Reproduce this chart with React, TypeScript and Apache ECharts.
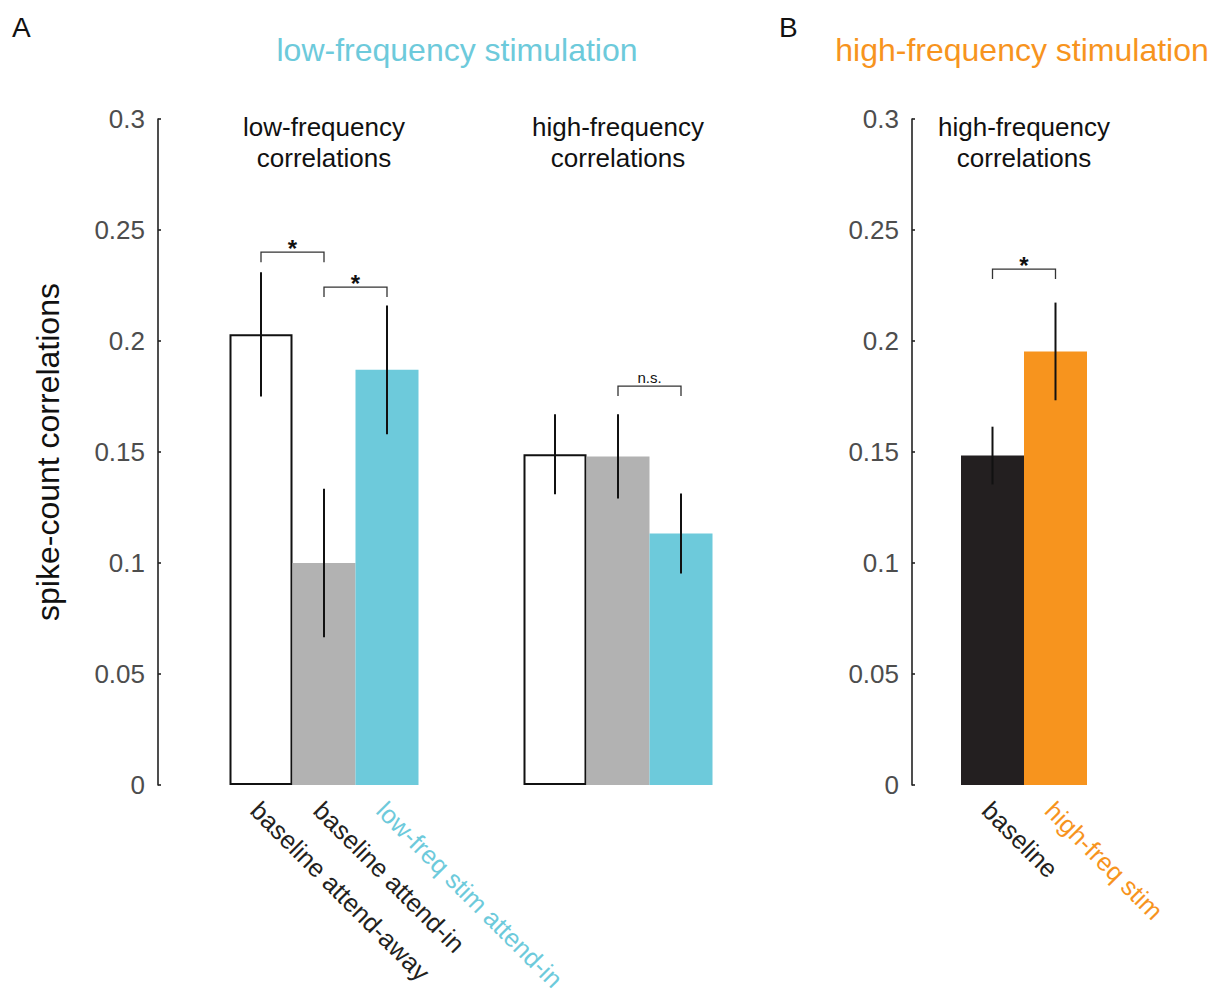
import React, { useEffect, useRef } from "react";
import * as echarts from "echarts";

const FONT = "'Liberation Sans', Arial, Helvetica, sans-serif";

// ---- data ----
const groupsA = ["low-frequency\ncorrelations", "high-frequency\ncorrelations"];
const groupsB = ["high-frequency\ncorrelations"];

const conditionsA = ["baseline attend-away", "baseline attend-in", "low-freq stim attend-in"];
const conditionsB = ["baseline", "high-freq stim"];

const awayA = [0.203, 0.149];
const attendInA = [0.1, 0.148];
const lowStimA = [0.187, 0.1133];
const errAwayA = [0.028, 0.018];
const errAttendInA = [0.0335, 0.019];
const errLowStimA = [0.029, 0.018];

const baselineB = [0.1484];
const highStimB = [0.1953];
const errBaselineB = [0.013];
const errHighStimB = [0.022];

const yTicks = [0, 0.05, 0.1, 0.15, 0.2, 0.25, 0.3];

// significance brackets
const bracketPanel = [0, 0, 0, 1];
const bracketGroup = [0, 0, 1, 0];
const bracketFrom = [0, 1, 1, 0];
const bracketTo = [1, 2, 2, 1];
const bracketLevel = [0.24, 0.2243, 0.1797, 0.2324];
const bracketLabel = ["*", "*", "n.s.", "*"];

// ---- style ----
const BAR_W = 63;
const CYAN = "#6dcadb";
const ORANGE = "#f7941e";
const GRAY = "#b2b2b2";
const DARK = "#231f20";
const TICK_GRAY = "#4d4d4d";

function errorSeries(axis: number, means: number[], errs: number[], slot: number, nSlots: number) {
  return {
    type: "custom",
    xAxisIndex: axis,
    yAxisIndex: axis,
    silent: true,
    z: 10,
    data: means.map((m, i) => [i, m - errs[i], m + errs[i]]),
    renderItem: (params: any, api: any) => {
      const lo = api.coord([api.value(0), api.value(1)]);
      const hi = api.coord([api.value(0), api.value(2)]);
      const dx = (slot - (nSlots - 1) / 2) * BAR_W;
      return {
        type: "line",
        shape: { x1: lo[0] + dx, y1: lo[1], x2: hi[0] + dx, y2: hi[1] },
        style: { stroke: "#111", lineWidth: 2 },
      };
    },
  };
}

function bracketSeries(panel: number, nSlots: number) {
  const idx = bracketPanel.map((p, i) => (p === panel ? i : -1)).filter((i) => i >= 0);
  return {
    type: "custom",
    xAxisIndex: panel,
    yAxisIndex: panel,
    silent: true,
    z: 10,
    data: idx.map((i) => [bracketGroup[i], bracketLevel[i], bracketFrom[i], bracketTo[i]]),
    renderItem: (params: any, api: any) => {
      const c = api.coord([api.value(0), api.value(1)]);
      const x1 = c[0] + (api.value(2) - (nSlots - 1) / 2) * BAR_W;
      const x2 = c[0] + (api.value(3) - (nSlots - 1) / 2) * BAR_W;
      const y = c[1];
      const label = bracketLabel[idx[params.dataIndex]];
      const isStar = label === "*";
      return {
        type: "group",
        children: [
          {
            type: "polyline",
            shape: { points: [[x1, y + 10], [x1, y], [x2, y], [x2, y + 10]] },
            style: { stroke: "#333", lineWidth: 1.3, fill: null },
          },
          {
            type: "text",
            x: (x1 + x2) / 2,
            y: isStar ? y - 4 : y - 1,
            style: {
              text: label,
              fill: "#111",
              fontSize: isStar ? 24 : 15,
              fontWeight: isStar ? "bold" : "normal",
              fontFamily: FONT,
              textAlign: "center",
              textVerticalAlign: isStar ? "middle" : "bottom",
              align: "center",
              verticalAlign: isStar ? "middle" : "bottom",
            },
          },
        ],
      };
    },
  };
}

function yAxisOf(gridIndex: number, offset: number, name: string) {
  return {
    type: "value",
    gridIndex,
    min: yTicks[0],
    max: yTicks[yTicks.length - 1],
    interval: 0.05,
    offset,
    name,
    nameLocation: "middle",
    nameGap: 94,
    nameRotate: 90,
    nameTextStyle: { color: "#111", fontSize: 32, fontFamily: FONT },
    axisLine: { show: true, lineStyle: { color: "#222", width: 1.6 } },
    axisTick: { show: true, inside: true, length: 3, lineStyle: { color: "#222", width: 1.6 } },
    axisLabel: {
      color: TICK_GRAY,
      fontSize: 26,
      fontFamily: FONT,
      margin: 13,
      formatter: (v: number) => String(+v.toFixed(2)),
    },
    splitLine: { show: false },
  };
}

function xAxisOf(gridIndex: number, data: string[]) {
  return {
    type: "category",
    gridIndex,
    data,
    axisLine: { show: false },
    axisTick: { show: false },
    axisLabel: { show: false },
    splitLine: { show: false },
  };
}

export default function App() {
  const ref = useRef<HTMLDivElement>(null);

  useEffect(() => {
    if (!ref.current) return;
    const chart = echarts.init(ref.current, undefined, { renderer: "svg" });
    chart.setOption({
      animation: false,
      backgroundColor: "#fff",
      textStyle: { fontFamily: FONT },
      grid: [
        { left: 177, top: 119, width: 588, height: 666 },
        { left: 912, top: 119, width: 224, height: 666 },
      ],
      xAxis: [xAxisOf(0, groupsA), xAxisOf(1, groupsB)],
      yAxis: [yAxisOf(0, 19, "spike-count correlations"), yAxisOf(1, 0, "")],
      series: [
        {
          type: "bar",
          name: conditionsA[0],
          xAxisIndex: 0,
          yAxisIndex: 0,
          data: awayA,
          barWidth: BAR_W,
          barGap: "0%",
          itemStyle: { color: "#fff", borderColor: "#111", borderWidth: 2 },
        },
        {
          type: "bar",
          name: conditionsA[1],
          xAxisIndex: 0,
          yAxisIndex: 0,
          data: attendInA,
          barWidth: BAR_W,
          barGap: "0%",
          itemStyle: { color: GRAY },
        },
        {
          type: "bar",
          name: conditionsA[2],
          xAxisIndex: 0,
          yAxisIndex: 0,
          data: lowStimA,
          barWidth: BAR_W,
          barGap: "0%",
          itemStyle: { color: CYAN },
        },
        {
          type: "bar",
          name: conditionsB[0],
          xAxisIndex: 1,
          yAxisIndex: 1,
          data: baselineB,
          barWidth: BAR_W,
          barGap: "0%",
          itemStyle: { color: DARK },
        },
        {
          type: "bar",
          name: conditionsB[1],
          xAxisIndex: 1,
          yAxisIndex: 1,
          data: highStimB,
          barWidth: BAR_W,
          barGap: "0%",
          itemStyle: { color: ORANGE },
        },
        errorSeries(0, awayA, errAwayA, 0, 3),
        errorSeries(0, attendInA, errAttendInA, 1, 3),
        errorSeries(0, lowStimA, errLowStimA, 2, 3),
        errorSeries(1, baselineB, errBaselineB, 0, 2),
        errorSeries(1, highStimB, errHighStimB, 1, 2),
        bracketSeries(0, 3),
        bracketSeries(1, 2),
      ],
    });

    // labels positioned from the axes
    const graphics: any[] = [
      { type: "text", x: 12, y: 27, style: { text: "A", fill: "#111", fontSize: 28, fontFamily: FONT, textAlign: "left", textVerticalAlign: "middle" } },
      { type: "text", x: 779, y: 27, style: { text: "B", fill: "#111", fontSize: 28, fontFamily: FONT, textAlign: "left", textVerticalAlign: "middle" } },
    ];
    const axisCenter = (axis: number, n: number) => {
      const a = chart.convertToPixel({ xAxisIndex: axis }, 0) as number;
      const b = chart.convertToPixel({ xAxisIndex: axis }, n - 1) as number;
      return (a + b) / 2;
    };
    graphics.push({
      type: "text",
      x: axisCenter(0, groupsA.length) - 14,
      y: 50,
      style: { text: "low-frequency stimulation", fill: CYAN, fontSize: 32, fontFamily: FONT, textAlign: "center", textVerticalAlign: "middle" },
    });
    graphics.push({
      type: "text",
      x: axisCenter(1, groupsB.length) - 2,
      y: 50,
      style: { text: "high-frequency stimulation", fill: ORANGE, fontSize: 32, fontFamily: FONT, textAlign: "center", textVerticalAlign: "middle" },
    });
    const addGroupTitles = (axis: number, groups: string[]) => {
      groups.forEach((g, i) => {
        const x = chart.convertToPixel({ xAxisIndex: axis }, i) as number;
        graphics.push({
          type: "text",
          x,
          y: 142,
          style: { text: g, fill: "#111", fontSize: 26, lineHeight: 31, fontFamily: FONT, textAlign: "center", textVerticalAlign: "middle" },
        });
      });
    };
    addGroupTitles(0, groupsA);
    addGroupTitles(1, groupsB);

    const addCondLabels = (axis: number, conds: string[], colors: string[]) => {
      const cx = chart.convertToPixel({ xAxisIndex: axis }, 0) as number;
      const y0 = chart.convertToPixel({ yAxisIndex: axis }, 0) as number;
      const n = conds.length;
      conds.forEach((c, i) => {
        const x = cx + (i - (n - 1) / 2) * BAR_W - 6;
        graphics.push({
          type: "text",
          x,
          y: y0 + 21,
          rotation: -Math.PI / 4,
          style: { text: c, fill: colors[i], fontSize: 25.5, fontFamily: FONT, textAlign: "left", textVerticalAlign: "middle" },
        });
      });
    };
    addCondLabels(0, conditionsA, [DARK, DARK, CYAN]);
    addCondLabels(1, conditionsB, [DARK, ORANGE]);

    chart.setOption({ graphic: graphics });

    return () => chart.dispose();
  }, []);

  return (
    <div
      ref={ref}
      style={{ position: "fixed", left: 0, top: 0, width: 1211, height: 994, background: "#fff" }}
    />
  );
}
